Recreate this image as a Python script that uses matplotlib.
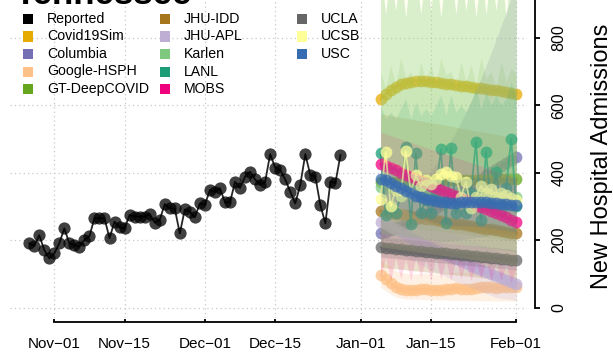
import numpy as np
import matplotlib
matplotlib.use("Agg")
import matplotlib.pyplot as plt
import matplotlib.dates as mdates
from matplotlib.patches import Rectangle
import datetime as dt

plt.rcParams['font.family'] = ['Liberation Sans', 'DejaVu Sans']

# ---------------- data ----------------
reported_start = dt.date(2020, 10, 27)
reported = [191, 183, 215, 171, 146, 161, 191, 235, 191, 186,
            181, 201, 212, 265, 265, 265, 206, 255, 238, 235,
            275, 270, 270, 270, 278, 252, 260, 307, 294, 294,
            220, 291, 285, 268, 309, 305, 349, 344, 354, 312,
            312, 373, 355, 388, 403, 380, 364, 373, 455, 415,
            408, 380, 344, 309, 364, 455, 393, 388, 304, 250,
            373, 370, 452]

forecast_start = dt.date(2021, 1, 5)

models = ["Covid19Sim", "Columbia", "Google-HSPH", "GT-DeepCOVID", "JHU-IDD",
          "JHU-APL", "Karlen", "LANL", "MOBS", "UCLA", "UCSB", "USC"]
colors = {"Reported": "#000000", "Covid19Sim": "#E6AB02", "Columbia": "#7570B3",
          "Google-HSPH": "#FDC086", "GT-DeepCOVID": "#66A61E", "JHU-IDD": "#A6761D",
          "JHU-APL": "#BEAED4", "Karlen": "#7FC97F", "LANL": "#1B9E77",
          "MOBS": "#F0027F", "UCLA": "#666666", "UCSB": "#FFFF99", "USC": "#386CB0"}

covid19sim = [618, 632, 645, 655, 662, 667, 670, 672, 672, 671, 670, 668, 666, 664,
              662, 660, 658, 656, 654, 652, 650, 648, 646, 644, 642, 640, 637, 634]
columbia = [220, 225, 230, 236, 242, 248, 255, 262, 270, 278, 286, 295, 304, 313,
            322, 332, 342, 352, 362, 372, 382, 392, 402, 411, 420, 429, 438, 446]
columbia_lo = [170, 172, 174, 176, 178, 180, 182, 184, 186, 188, 190, 192, 194, 196,
               198, 200, 202, 204, 206, 208, 210, 212, 214, 216, 218, 220, 222, 224]
columbia_hi = [270, 280, 290, 300, 312, 324, 338, 352, 368, 385, 405, 425, 447, 470,
               495, 522, 550, 580, 612, 645, 680, 717, 755, 795, 835, 875, 918, 960]
google = [97, 85, 72, 62, 56, 53, 52, 53, 55, 54, 52, 51, 52, 54,
          56, 57, 56, 55, 56, 58, 60, 61, 60, 59, 60, 61, 62, 62]
google_lo = [60, 50, 40, 32, 28, 26, 25, 25, 25, 24, 24, 23, 23, 23,
             22, 22, 22, 22, 21, 21, 21, 20, 20, 20, 20, 20, 20, 20]
google_hi = [140, 130, 120, 110, 105, 102, 100, 100, 102, 102, 100, 100, 101, 103,
             105, 106, 106, 105, 106, 108, 110, 111, 110, 110, 111, 112, 113, 113]
gt = [372, 372, 373, 373, 374, 374, 375, 375, 376, 376, 376, 377, 377, 377,
      378, 378, 378, 378, 379, 379, 379, 379, 380, 380, 380, 380, 380, 380]
gt_lo = [250, 248, 246, 244, 242, 240, 238, 236, 234, 232, 230, 228, 226, 224,
         222, 220, 218, 216, 214, 212, 210, 208, 206, 204, 202, 200, 198, 196]
gt_hi = [700, 650, 720, 660, 740, 680, 700, 650, 730, 670, 720, 660, 740, 690,
         700, 650, 730, 670, 720, 660, 740, 680, 700, 650, 730, 670, 710, 690]
jhu_idd = [287, 284, 282, 279, 277, 274, 272, 269, 267, 264, 262, 259, 257, 254,
           252, 249, 247, 244, 242, 239, 237, 234, 232, 229, 227, 225, 222, 220]
jhu_idd_lo = [120, 118, 117, 115, 114, 112, 111, 109, 108, 106, 105, 103, 102, 100,
              99, 97, 96, 94, 93, 91, 90, 88, 87, 85, 84, 82, 81, 80]
jhu_idd_hi = [575, 572, 570, 567, 564, 562, 559, 556, 554, 551, 548, 546, 543, 540,
              538, 535, 532, 530, 527, 524, 522, 519, 516, 514, 511, 508, 506, 505]
jhu_apl = [255, 248, 240, 232, 224, 216, 208, 200, 192, 185, 178, 171, 164, 157,
           150, 143, 137, 131, 125, 119, 113, 107, 101, 95, 89, 83, 77, 70]
jhu_apl_lo = [190, 183, 175, 167, 159, 151, 143, 135, 127, 120, 113, 106, 99, 92,
              85, 78, 72, 66, 60, 54, 48, 42, 36, 30, 28, 26, 24, 22]
jhu_apl_hi = [330, 323, 315, 307, 299, 291, 283, 275, 267, 260, 253, 246, 239, 232,
              225, 218, 212, 206, 200, 194, 188, 182, 176, 170, 164, 158, 152, 145]
karlen = [358, 356, 354, 352, 350, 349, 348, 347, 346, 345, 344, 343, 342, 341,
          340, 339, 338, 337, 336, 335, 334, 333, 332, 331, 330, 329, 328, 327]
karlen_lo = [220, 218, 216, 214, 212, 210, 208, 206, 204, 202, 200, 198, 196, 194,
             192, 190, 188, 186, 184, 182, 180, 178, 176, 174, 172, 170, 168, 166]
karlen_hi = [1000, 870, 1000, 880, 1000, 860, 1000, 1000, 870, 1000, 880, 1000, 860, 1000,
             1000, 870, 1000, 880, 1000, 860, 1000, 870, 1000, 880, 1000, 860, 1000, 1000]
lanl = [457, 275, 300, 280, 330, 477, 248, 457, 280, 320, 280, 340, 469, 252,
        472, 280, 330, 280, 340, 492, 260, 462, 300, 403, 290, 354, 500, 300]
lanl_lo = [200, 198, 196, 194, 192, 190, 188, 186, 184, 182, 180, 178, 176, 174,
           172, 170, 168, 166, 164, 162, 160, 158, 156, 154, 152, 150, 148, 146]
lanl_hi = [600, 560, 580, 560, 590, 620, 560, 610, 570, 590, 570, 600, 630, 570,
           630, 580, 600, 580, 610, 650, 590, 640, 600, 630, 600, 620, 670, 620]
mobs = [425, 419, 413, 407, 400, 394, 388, 381, 375, 369, 362, 356, 350, 343,
        337, 331, 324, 318, 312, 305, 299, 293, 287, 280, 274, 268, 261, 253]
mobs_lo = [90, 150, 80, 150, 85, 145, 80, 150, 90, 145, 80, 150, 85, 140,
           80, 145, 85, 140, 80, 135, 85, 140, 80, 135, 80, 130, 75, 120]
mobs_hi = [520, 515, 510, 505, 500, 495, 490, 485, 480, 475, 470, 465, 460, 455,
           450, 445, 440, 435, 430, 425, 420, 415, 410, 405, 400, 395, 390, 385]
ucla = [179, 178, 176, 175, 173, 172, 170, 169, 168, 166, 165, 163, 162, 161,
        159, 158, 156, 155, 154, 152, 151, 149, 148, 147, 145, 144, 142, 141]
ucla_lo = [150, 149, 147, 146, 144, 143, 141, 140, 139, 137, 136, 134, 133, 132,
           130, 129, 127, 126, 125, 123, 122, 120, 119, 118, 116, 115, 113, 112]
ucla_hi = [210, 209, 207, 206, 204, 203, 201, 200, 199, 197, 196, 194, 193, 192,
           190, 189, 187, 186, 185, 183, 182, 180, 179, 178, 176, 175, 173, 172]
ucsb = [322, 462, 300, 350, 330, 465, 340, 393, 360, 378, 368, 380, 396, 403,
        390, 386, 329, 373, 294, 329, 361, 339, 351, 329, 339, 334, 325, 319]
ucsb_lo = [180, 178, 176, 174, 172, 170, 168, 166, 164, 162, 160, 158, 156, 154,
           152, 150, 148, 146, 144, 142, 140, 138, 136, 134, 132, 130, 128, 126]
ucsb_hi = [1000, 1000, 1000, 1000, 1000, 1000, 1000, 1000, 1000, 1000, 1000, 1000, 1000, 1000,
           1000, 1000, 1000, 1000, 1000, 1000, 1000, 1000, 1000, 1000, 1000, 1000, 1000, 1000]
usc = [381, 378, 370, 361, 354, 347, 339, 332, 327, 323, 319, 316, 313, 312,
       311, 311, 312, 312, 313, 313, 313, 312, 311, 310, 308, 307, 305, 303]
usc_lo = [330, 325, 315, 305, 297, 289, 280, 272, 266, 261, 256, 252, 248, 246,
          244, 243, 243, 242, 242, 241, 240, 238, 236, 234, 231, 229, 226, 223]
usc_hi = [430, 430, 425, 418, 412, 406, 399, 393, 389, 386, 383, 381, 379, 379,
          379, 380, 382, 383, 385, 386, 387, 387, 387, 387, 386, 386, 385, 384]

medians = {"Covid19Sim": covid19sim, "Columbia": columbia, "Google-HSPH": google,
           "GT-DeepCOVID": gt, "JHU-IDD": jhu_idd, "JHU-APL": jhu_apl,
           "Karlen": karlen, "LANL": lanl, "MOBS": mobs, "UCLA": ucla,
           "UCSB": ucsb, "USC": usc}
bands = {"Columbia": (columbia_lo, columbia_hi), "Google-HSPH": (google_lo, google_hi),
         "GT-DeepCOVID": (gt_lo, gt_hi), "JHU-IDD": (jhu_idd_lo, jhu_idd_hi),
         "JHU-APL": (jhu_apl_lo, jhu_apl_hi), "Karlen": (karlen_lo, karlen_hi),
         "LANL": (lanl_lo, lanl_hi), "MOBS": (mobs_lo, mobs_hi),
         "UCLA": (ucla_lo, ucla_hi), "UCSB": (ucsb_lo, ucsb_hi), "USC": (usc_lo, usc_hi)}
band_alpha = {"Karlen": 0.33, "UCSB": 0.13, "GT-DeepCOVID": 0.16, "MOBS": 0.13,
              "USC": 0.15, "UCLA": 0.2, "LANL": 0.15}

xtick_dates = [dt.date(2020, 11, 1), dt.date(2020, 11, 15), dt.date(2020, 12, 1),
               dt.date(2020, 12, 15), dt.date(2021, 1, 1), dt.date(2021, 1, 15),
               dt.date(2021, 2, 1)]
xtick_labels = ["Nov\u221201", "Nov\u221215", "Dec\u221201", "Dec\u221215",
                "Jan\u221201", "Jan\u221215", "Feb\u221201"]
yticks = [0, 200, 400, 600, 800]

# ---------------- figure ----------------
W, H = 613, 360
fig = plt.figure(figsize=(W / 100, H / 100), dpi=100)
ax = fig.add_axes([10 / W, 1 - 318 / H, 517 / W, 318 / H])

rep_dates = [reported_start + dt.timedelta(days=i) for i in range(len(reported))]
fc_dates = [forecast_start + dt.timedelta(days=i) for i in range(len(covid19sim))]

# grid
for d in xtick_dates:
    ax.axvline(d, color="#C8C8C8", lw=0.9, ls=(0, (1, 2.5)), zorder=0)
for v in yticks:
    ax.axhline(v, color="#C8C8C8", lw=0.9, ls=(0, (1, 2.5)), zorder=0)

# each model: band, then its line and points (later models on top)
for i, m in enumerate(models):
    z = 2 + i * 0.1
    if m in bands:
        lo, hi = bands[m]
        ax.fill_between(fc_dates, lo, hi, color=colors[m],
                        alpha=band_alpha.get(m, 0.22), lw=0, zorder=z)
    ax.plot(fc_dates, medians[m], color=colors[m], lw=1.3, alpha=0.8, zorder=z + 0.05)
    ax.plot(fc_dates, medians[m], ls="none", marker="o", ms=8.5, mew=0,
            color=colors[m], alpha=0.75, zorder=z + 0.05)

# reported
ax.plot(rep_dates, reported, color="black", lw=1.3, alpha=0.85, zorder=4)
ax.plot(rep_dates, reported, ls="none", marker="o", ms=8.8, mew=0,
        color="black", alpha=0.75, zorder=4)

x0 = mdates.date2num(dt.date(2020, 11, 1))
ax.set_xlim(x0 - 8.82, x0 + 94.16)
ax.set_ylim(-30.5, 911.7)

for s in ["top", "left"]:
    ax.spines[s].set_visible(False)
ax.spines["bottom"].set_position(("outward", 3))
ax.spines["bottom"].set_bounds(mdates.date2num(xtick_dates[0]), mdates.date2num(xtick_dates[-1]))
ax.spines["bottom"].set_linewidth(1.3)
ax.spines["right"].set_position(("outward", 6))
ax.spines["right"].set_bounds(0, 1000)
ax.spines["right"].set_linewidth(1.3)

ax.set_xticks([mdates.date2num(d) for d in xtick_dates])
ax.set_xticklabels(xtick_labels, fontsize=11)
ax.tick_params(axis="x", direction="in", length=2.5, width=1.3, pad=11)

ax.yaxis.tick_right()
ax.set_yticks(yticks)
ax.set_yticklabels([str(v) for v in yticks], fontsize=11.5, rotation=90, va="center")
ax.tick_params(axis="y", direction="out", length=3.6, width=1.3, pad=8)

fig.text(602 / W, 1 - 156 / H, "New Hospital Admissions", rotation=90,
         ha="center", va="center", fontsize=17)

fig.text(15 / W, 1 - 4 / H, "Tennessee", fontsize=25, fontweight="bold",
         ha="left", va="baseline")

# legend (manual)
legend_cols = [["Reported", "Covid19Sim", "Columbia", "Google-HSPH", "GT-DeepCOVID"],
               ["JHU-IDD", "JHU-APL", "Karlen", "LANL", "MOBS"],
               ["UCLA", "UCSB", "USC"]]
col_x = [28, 165, 302]
row_y = [19, 36.5, 54, 71.5, 89]
for ci, col in enumerate(legend_cols):
    for ri, name in enumerate(col):
        cx, cy = col_x[ci], row_y[ri]
        fig.patches.append(Rectangle(((cx - 5) / W, 1 - (cy + 5) / H), 10 / W, 10 / H,
                                     transform=fig.transFigure, color=colors[name], lw=0))
        fig.text((cx + 19) / W, 1 - cy / H, name, fontsize=10.2, ha="left", va="center")

fig.savefig("out.png", dpi=100)
